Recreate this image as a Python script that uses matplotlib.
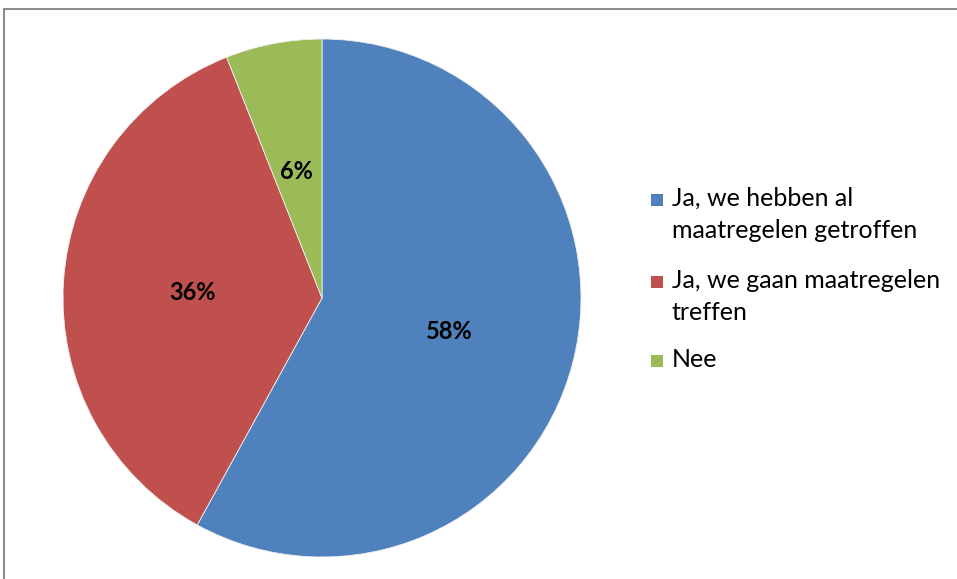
import matplotlib.pyplot as plt
from matplotlib.patches import Rectangle

labels = ["Ja, we hebben al\nmaatregelen getroffen",
          "Ja, we gaan maatregelen\ntreffen",
          "Nee"]
values = [58, 36, 6]
colors = ["#4F81BD", "#C0504D", "#9BBB59"]

W, H = 957, 579
fig = plt.figure(figsize=(W / 100, H / 100), dpi=100)
plt.rcParams["font.family"] = ["Lato", "DejaVu Sans"]


def px(x, y):
    # pixel position (from top-left) -> figure fraction
    return x / W, 1 - y / H


# chart area border, running off the right and bottom edges
fig.patches.append(Rectangle((4 / W, -0.05), 1.0, 1 - 9 / H + 0.05,
                             transform=fig.transFigure, fill=False,
                             edgecolor="#8c8c8c", linewidth=1.5))

# pie centred at (322, 298) px with radius ~259 px
r = 259
ax = fig.add_axes([(322 - r) / W, (H - 298 - r) / H, 2 * r / W, 2 * r / H])
wedges, texts, autotexts = ax.pie(
    values, colors=colors, startangle=90, counterclock=False,
    autopct=lambda p: f"{p:.0f}%", pctdistance=0.55,
    textprops=dict(fontsize=17, fontweight="bold", color="black"),
    wedgeprops=dict(linewidth=0.6, edgecolor="#f0f0f0"))
ax.set_xlim(-1, 1)
ax.set_ylim(-1, 1)
ax.set_aspect("equal")

# nudge labels to where they sit in the layout
autotexts[0].set_position((0.49, -0.13))
autotexts[1].set_position((-0.50, 0.02))
autotexts[2].set_position((-0.10, 0.49))

# legend: square marker aligned with the first line of each entry
row_y = [200, 282, 361]
for label, color, y in zip(labels, colors, row_y):
    sx, sy = px(651, y + 6)
    fig.patches.append(Rectangle((sx, sy), 12 / W, 12 / H,
                                 transform=fig.transFigure,
                                 facecolor=color, edgecolor="none"))
    tx, ty = px(672, y - 13)
    fig.text(tx, ty, label, fontsize=18, va="top", ha="left",
             linespacing=1.45)

fig.savefig("out.png", dpi=100)
